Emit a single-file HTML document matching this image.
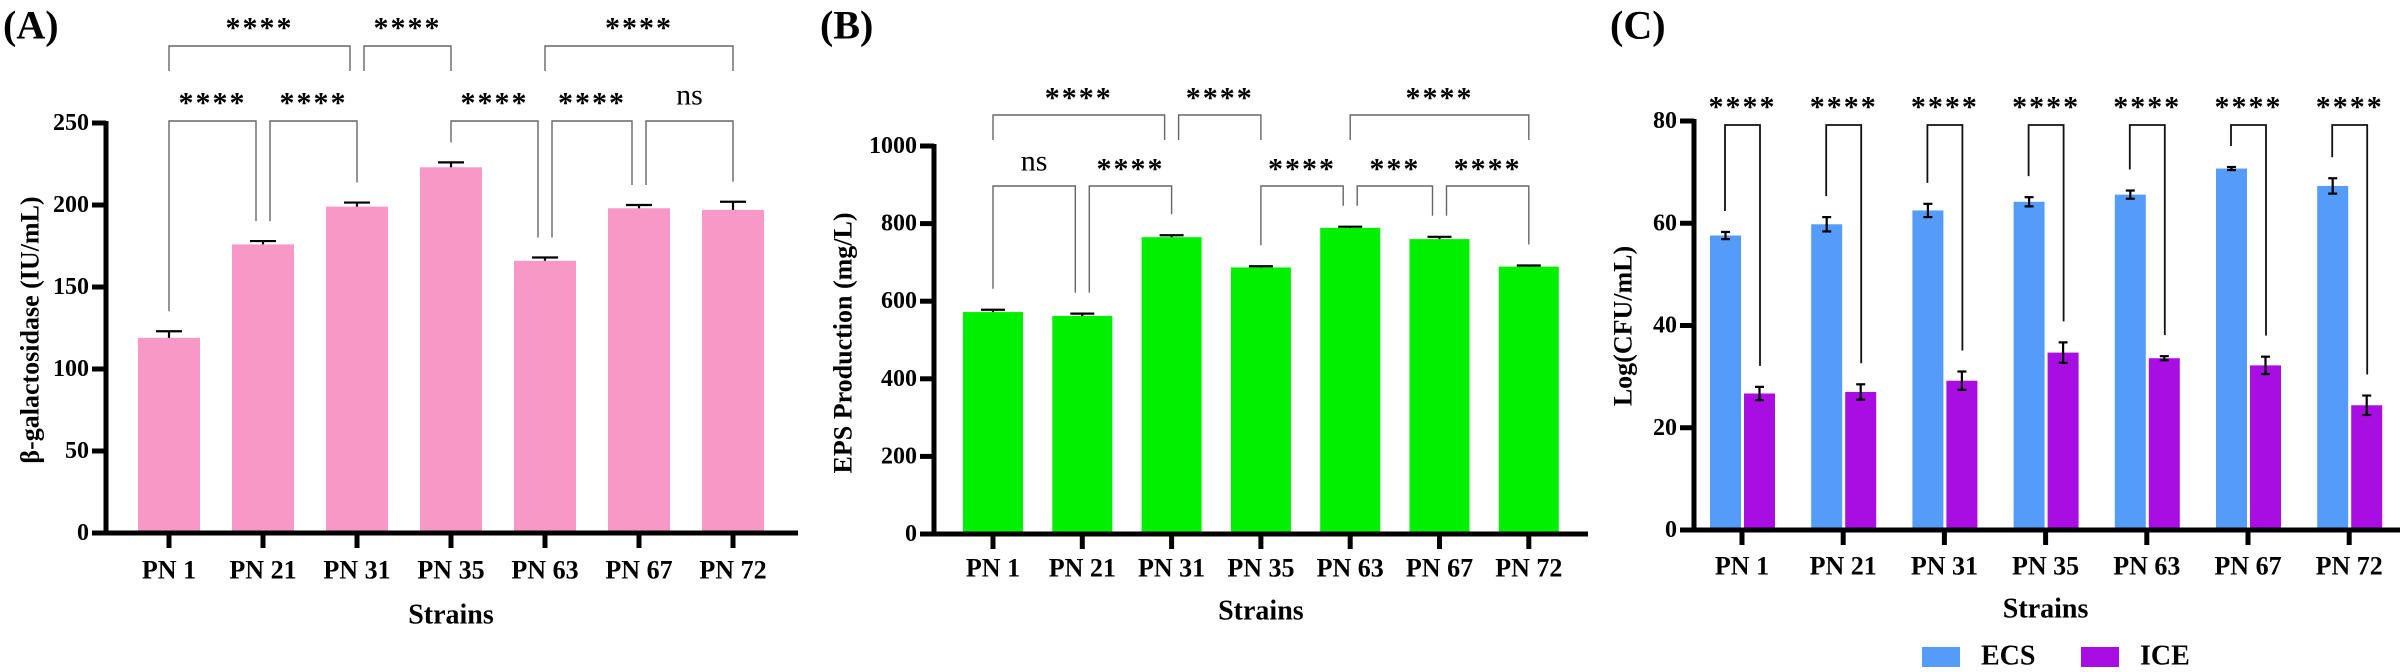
<!DOCTYPE html>
<html><head><meta charset="utf-8">
<style>
html,body{margin:0;padding:0;background:#fff;}
svg{display:block;font-family:"Liberation Serif",serif;}
</style></head>
<body>
<svg id="fig" width="2400" height="672" viewBox="0 0 2400 672" xmlns="http://www.w3.org/2000/svg"></svg>
<script>
// ---- shared data ----
const categories = ["PN 1","PN 21","PN 31","PN 35","PN 63","PN 67","PN 72"];
// Panel A
const aValues = [119, 176, 199, 223, 166, 198, 197];
const aErrors = [4, 2, 2.5, 3, 2, 2, 5];
const aTicks = [0, 50, 100, 150, 200, 250];
const aTop = [[0,2,"****"],[2,3,"****"],[4,6,"****"]];
const aLow = [[0,1,"****"],[1,2,"****"],[3,4,"****"],[4,5,"****"],[5,6,"ns"]];
// Panel B
const bValues = [572, 562, 765, 687, 789, 760, 689];
const bErrors = [6, 6, 5, 3, 3, 6, 3];
const bTicks = [0, 200, 400, 600, 800, 1000];
const bTop = [[0,2,"****"],[2,3,"****"],[4,6,"****"]];
const bLow = [[0,1,"ns"],[1,2,"****"],[3,4,"****"],[4,5,"***"],[5,6,"****"]];
// Panel C
const ecsValues = [57.6, 59.8, 62.5, 64.2, 65.6, 70.7, 67.3];
const ecsErrors = [0.7, 1.4, 1.3, 0.9, 0.8, 0.3, 1.5];
const iceValues = [26.7, 27.0, 29.2, 34.7, 33.6, 32.2, 24.4];
const iceErrors = [1.3, 1.5, 1.8, 2.0, 0.4, 1.7, 1.9];
const cTicks = [0, 20, 40, 60, 80];
const cStars = ["****","****","****","****","****","****","****"];

const NS = "http://www.w3.org/2000/svg";
const svg = document.getElementById('fig');
function mk(tag, attrs, parent){
  const e = document.createElementNS(NS, tag);
  for (const k in attrs) e.setAttribute(k, attrs[k]);
  (parent||svg).appendChild(e);
  return e;
}
function txt(parent, s, x, y, size, weight, anchor, name){
  const t = mk('text', {x:x, y:y, 'font-size':size, 'font-weight':weight, 'text-anchor':anchor||'middle', 'dominant-baseline':'central', fill:'#000'}, parent);
  t.textContent = s;
  
  
  return t;
}

function panel(cfg){
  const g = mk('g', {});
  
  
  const yS = v => cfg.y0 - (v - 0) * (cfg.y0 - cfg.yTopPx) / cfg.yMax;
  const xS = i => cfg.x0cat + i * cfg.step;
  // panel label
  txt(g, cfg.label, cfg.labelX, 25, 40, 'bold', 'start', 'panel-label');
  // y ticks
  cfg.ticks.forEach(t => {
    const y = yS(t);
    const l = mk('line', {x1:cfg.ax-14, x2:cfg.ax, y1:y, y2:y, stroke:'#000', 'stroke-width':5}, g);
    
    
    txt(g, String(t), cfg.ax-17, y, 24, 'bold', 'end', 'y-tick-label');
  });
  // bars
  cfg.series.forEach(s => {
    s.values.forEach((v, i) => {
      const cx = xS(i) + s.off;
      const r = mk('rect', {x:cx - s.w/2, y:yS(v), width:s.w, height:yS(0)-yS(v), fill:s.color}, g);
      
      
      const e = s.errors[i];
      const eb = mk('g', {stroke:'#000', 'stroke-width':2.2}, g);
      
      
      const lo = s.twoSided ? yS(v - e) : yS(v);
      mk('line', {x1:cx, x2:cx, y1:lo, y2:yS(v+e)}, eb);
      mk('line', {x1:cx-s.cap/2, x2:cx+s.cap/2, y1:yS(v+e), y2:yS(v+e)}, eb);
      if (s.twoSided) mk('line', {x1:cx-s.cap/2, x2:cx+s.cap/2, y1:lo, y2:lo}, eb);
    });
  });
  // axes
  const ya = mk('line', {x1:cfg.ax, x2:cfg.ax, y1:yS(cfg.yMax)-2, y2:cfg.y0+2.5, stroke:'#000', 'stroke-width':5}, g);
  
  
  const xa = mk('line', {x1:cfg.ax-2.5, x2:cfg.axEnd, y1:cfg.y0, y2:cfg.y0, stroke:'#000', 'stroke-width':5}, g);
  
  
  categories.forEach((c, i) => {
    const x = xS(i);
    const t = mk('line', {x1:x, x2:x, y1:cfg.y0, y2:cfg.y0+15, stroke:'#000', 'stroke-width':5}, g);
    
    
    txt(g, c, x, cfg.catY, 26, 'bold', 'middle', 'x-tick-label');
  });
  txt(g, 'Strains', cfg.x0cat + 3*cfg.step, cfg.strY, 28, 'bold', 'middle', 'x-axis-title');
  const yt = txt(g, cfg.yTitle, 0, 0, 26, 'bold', 'middle', 'y-axis-title');
  yt.setAttribute('transform', 'translate(' + cfg.yTitleX + ',' + cfg.yTitleY + ') rotate(-90)');
  return {g, yS, xS};
}

function brackets(p, cfg, list, barTop, barY, starY, drop, color, sw){
  list.forEach(([a, b, lab], k) => {
    const shareL = list.some(o => o !== list[k] && o[1] === a);
    const shareR = list.some(o => o !== list[k] && o[0] === b);
    const xl = p.xS(a) + (shareL ? 7 : 0);
    const xr = p.xS(b) - (shareR ? 7 : 0);
    const yl = drop === null ? barY + 25 : p.yS(barTop[a]) - drop;
    const yr = drop === null ? barY + 25 : p.yS(barTop[b]) - drop;
    const pl = mk('polyline', {points: xl+','+yl+' '+xl+','+barY+' '+xr+','+barY+' '+xr+','+yr, fill:'none', stroke:color, 'stroke-width':sw}, p.g);
    
    
    const isNs = lab === 'ns';
    const t = txt(p.g, lab, (xl+xr)/2, starY + (isNs ? -4 : 4), isNs ? 30 : 30, isNs ? 'normal' : 'bold', 'middle', isNs ? 'ns-label' : 'significance-stars');
    if (!isNs) t.setAttribute('letter-spacing', '2');
  });
}

// Panel A
const cfgA = {name:'panel-a-beta-galactosidase', label:'(A)', labelX:3, ax:106, axEnd:798, y0:533, yTopPx:123, yMax:250,
  x0cat:169, step:94, ticks:aTicks, catY:570, strY:615, yTitle:'β-galactosidase (IU/mL)', yTitleX:30, yTitleY:330,
  series:[{key:'a', values:aValues, errors:aErrors, color:'#F798C6', w:62, off:0, cap:26, twoSided:false}]};
const pA = panel(cfgA);
const aTopV = aValues.map((v,i)=>v+aErrors[i]);
brackets(pA, cfgA, aTop, aTopV, 46, 24, null, '#666', 1.4);
brackets(pA, cfgA, aLow, aTopV, 121, 99, 20, '#666', 1.4);

// Panel B
const cfgB = {name:'panel-b-eps-production', label:'(B)', labelX:820, ax:934, axEnd:1588, y0:534, yTopPx:146, yMax:1000,
  x0cat:993, step:89.3, ticks:bTicks, catY:568, strY:611, yTitle:'EPS Production (mg/L)', yTitleX:843, yTitleY:343,
  series:[{key:'b', values:bValues, errors:bErrors, color:'#00F000', w:60, off:0, cap:24, twoSided:false}]};
const pB = panel(cfgB);
const bTopV = bValues.map((v,i)=>v+bErrors[i]);
brackets(pB, cfgB, bTop, bTopV, 115, 94, null, '#666', 1.4);
brackets(pB, cfgB, bLow, bTopV, 186, 165, 21, '#666', 1.4);

// Panel C
const cfgC = {name:'panel-c-log-cfu', label:'(C)', labelX:1610, ax:1694, axEnd:2400, y0:530, yTopPx:121, yMax:80,
  x0cat:1742, step:101.2, ticks:cTicks, catY:566, strY:609, yTitle:'Log(CFU/mL)', yTitleX:1623, yTitleY:326,
  series:[
    {key:'ecs', values:ecsValues, errors:ecsErrors, color:'#559CF9', w:31, off:-16.5, cap:9, twoSided:true},
    {key:'ice', values:iceValues, errors:iceErrors, color:'#A80EE2', w:31, off:17.5, cap:9, twoSided:true}]};
const pC = panel(cfgC);
cStars.forEach((s, i) => {
  const xl = pC.xS(i) - 17, xr = pC.xS(i) + 18;
  const yl = pC.yS(ecsValues[i] + ecsErrors[i]) - 21;
  const yr = pC.yS(iceValues[i] + iceErrors[i]) - 21;
  const pl = mk('polyline', {points: xl+','+yl+' '+xl+',125 '+xr+',125 '+xr+','+yr, fill:'none', stroke:'#111', 'stroke-width':1.8}, pC.g);
  
  
  const t = txt(pC.g, s, (xl+xr)/2, 107, 30, 'bold', 'middle', 'significance-stars');
  t.setAttribute('letter-spacing', '2');
});
// legend
const leg = mk('g', {}, svg);


const legendLabels = ["ECS", "ICE"];
const legendColors = ['#559CF9', '#A80EE2'];
const legendX = [1922, 2081];
legendLabels.forEach((l, i) => {
  const r = mk('rect', {x:legendX[i], y:647, width:38, height:20, fill:legendColors[i]}, leg);
  
  
  txt(leg, l, legendX[i] + 59, 656, 28, 'bold', 'start', 'legend-entry-' + l.toLowerCase());
});
</script>
</body></html>
